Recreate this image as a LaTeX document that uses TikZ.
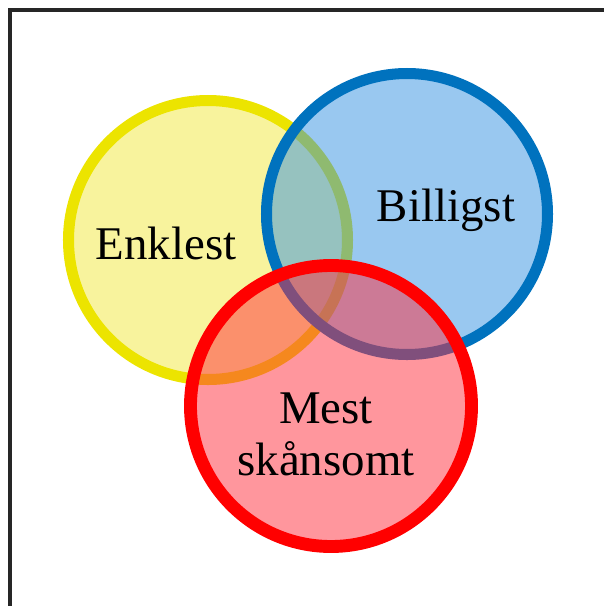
\documentclass[tikz,border=0pt]{standalone}
\usepackage{fontspec}
\setmainfont{Liberation Serif}
\usepackage{tikz}

\definecolor{ringyellow}{RGB}{236,228,0}
\definecolor{fillyellow}{RGB}{241,232,60}
\definecolor{ringblue}{RGB}{0,114,190}
\definecolor{fillblue}{RGB}{52,145,225}
\definecolor{ringred}{RGB}{255,0,0}
\definecolor{fillred}{RGB}{255,45,60}

\tikzset{
  ring/.style={line width=9.4pt, fill opacity=0.5},
  ringlabel/.style={font=\fontsize{40}{44}\selectfont, align=center, inner sep=0pt, anchor=base}
}

\begin{document}
\begin{tikzpicture}[x=0.03cm, y=-0.03cm]
            \useasboundingbox (0,0) rectangle (603,606);
            % Frame
            \draw[line width=3pt, black!85] (10,620) -- (10,10) -- (620,10);

            % Draw rings
            \draw[ring, draw=ringyellow, fill=fillyellow] (208,240) circle (139.5);
            \draw[ring, draw=ringblue, fill=fillblue] (407,214) circle (140.5);
            \draw[ring, draw=ringred, fill=fillred, line width=11pt] (331,406) circle (140.5);

            % Labels
            \node[ringlabel] (enklest) at (166,259) {Enklest};
            \node[ringlabel] (billigst) at (446,221) {Billigst};
            \node[ringlabel] (mest) at (326,475) {Mest\\skånsomt};
\end{tikzpicture}
\end{document}
